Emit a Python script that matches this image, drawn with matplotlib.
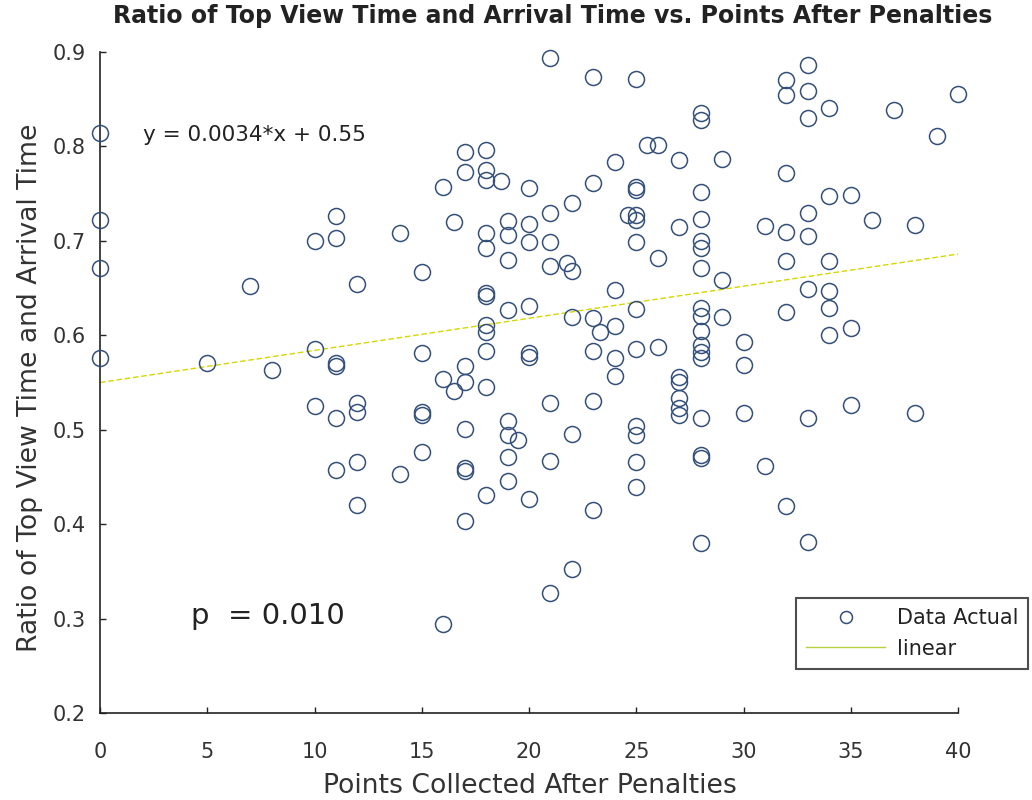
import matplotlib
matplotlib.use("Agg")
import matplotlib.pyplot as plt
import numpy as np
from matplotlib.lines import Line2D

# ---- data ----
points_x = [0, 0, 0, 0,
            5, 7, 8,
            10, 10, 10,
            11, 11, 11, 11, 11, 11,
            12, 12, 12, 12, 12,
            14, 14,
            15, 15, 15, 15, 15,
            16, 16, 16,
            16.5, 16.5,
            17, 17, 17, 17, 17, 17, 17, 17,
            18, 18, 18, 18, 18, 18, 18, 18, 18, 18, 18, 18,
            18.7,
            19, 19, 19, 19, 19, 19, 19, 19,
            19.5,
            20, 20, 20, 20, 20, 20, 20,
            21, 21, 21, 21, 21, 21, 21,
            21.75,
            22, 22, 22, 22, 22,
            23, 23, 23, 23, 23, 23,
            23.3,
            24, 24, 24, 24, 24,
            24.6,
            25, 25, 25, 25, 25, 25, 25, 25, 25, 25, 25, 25,
            25.5,
            26, 26, 26,
            27, 27, 27, 27, 27, 27, 27,
            28, 28, 28, 28, 28, 28, 28, 28, 28, 28, 28, 28, 28, 28, 28, 28, 28,
            29, 29, 29,
            30, 30, 30,
            31, 31,
            32, 32, 32, 32, 32, 32, 32,
            33, 33, 33, 33, 33, 33, 33, 33,
            34, 34, 34, 34, 34, 34,
            35, 35, 35,
            36, 37, 38, 38, 39, 40]

ratio_y = [0.814, 0.722, 0.671, 0.576,
           0.571, 0.652, 0.563,
           0.700, 0.585, 0.525,
           0.726, 0.703, 0.571, 0.568, 0.512, 0.457,
           0.654, 0.528, 0.519, 0.466, 0.420,
           0.708, 0.453,
           0.667, 0.581, 0.519, 0.516, 0.476,
           0.757, 0.554, 0.294,
           0.720, 0.541,
           0.794, 0.773, 0.567, 0.551, 0.501, 0.459, 0.456, 0.403,
           0.796, 0.775, 0.764, 0.708, 0.692, 0.645, 0.642, 0.611, 0.604, 0.583, 0.545, 0.431,
           0.763,
           0.721, 0.706, 0.680, 0.627, 0.509, 0.494, 0.471, 0.446,
           0.489,
           0.756, 0.718, 0.699, 0.631, 0.581, 0.577, 0.427,
           0.894, 0.729, 0.699, 0.673, 0.528, 0.467, 0.327,
           0.677,
           0.740, 0.668, 0.619, 0.495, 0.352,
           0.873, 0.761, 0.618, 0.583, 0.530, 0.415,
           0.603,
           0.783, 0.648, 0.610, 0.576, 0.557,
           0.727,
           0.871, 0.757, 0.754, 0.727, 0.722, 0.699, 0.628, 0.585, 0.504, 0.494, 0.466, 0.439,
           0.802,
           0.802, 0.682, 0.588,
           0.786, 0.715, 0.556, 0.551, 0.534, 0.523, 0.516,
           0.835, 0.828, 0.752, 0.723, 0.700, 0.692, 0.671, 0.629, 0.620, 0.605, 0.590, 0.582, 0.576, 0.512, 0.473, 0.470, 0.380,
           0.787, 0.659, 0.619,
           0.593, 0.569, 0.518,
           0.716, 0.462,
           0.870, 0.854, 0.772, 0.709, 0.679, 0.625, 0.419,
           0.886, 0.859, 0.830, 0.729, 0.705, 0.649, 0.512, 0.381,
           0.841, 0.747, 0.679, 0.647, 0.629, 0.600,
           0.749, 0.608, 0.526,
           0.722, 0.839, 0.717, 0.518, 0.811, 0.855]

fit_slope = 0.0034
fit_intercept = 0.55
x_ticks = [0, 5, 10, 15, 20, 25, 30, 35, 40]
y_ticks = [0.2, 0.3, 0.4, 0.5, 0.6, 0.7, 0.8, 0.9]

title = "Ratio of Top View Time and Arrival Time vs. Points After Penalties"
x_label = "Points Collected After Penalties"
y_label = "Ratio of Top View Time and Arrival Time"
eq_text = "y = 0.0034*x + 0.55"
p_text = "p  = 0.010"

# ---- figure ----
W, H = 1032, 800
fig = plt.figure(figsize=(W / 100, H / 100), dpi=100)
ax = fig.add_axes([100 / W, 1 - 713 / H, (958 - 100) / W, (713 - 52) / H])

marker_color = "#34507a"
line_color = "#d6d600"

ax.plot(points_x, ratio_y, linestyle="none", marker="o", markersize=11.5,
        markerfacecolor="none", markeredgecolor=marker_color, markeredgewidth=1.1,
        clip_on=False, zorder=3)

fx = np.array([x_ticks[0], x_ticks[-1]])
ax.plot(fx, fit_slope * fx + fit_intercept, color=line_color, linestyle=(0, (4, 2)),
        linewidth=1.0, zorder=2)

ax.set_xlim(x_ticks[0], x_ticks[-1])
ax.set_ylim(y_ticks[0], y_ticks[-1])
ax.set_xticks(x_ticks)
ax.set_yticks(y_ticks)
ax.set_xticklabels([f"{v:g}" for v in x_ticks])
ax.set_yticklabels([f"{v:.1f}" for v in y_ticks])

for s in ["top", "right"]:
    ax.spines[s].set_visible(False)
for s in ["left", "bottom"]:
    ax.spines[s].set_linewidth(1.2)
    ax.spines[s].set_color("#222222")

ax.tick_params(axis="both", direction="in", length=4.5, width=1.0, colors="#222222",
               labelsize=15, labelcolor="#333333")
ax.tick_params(axis="x", pad=21)
ax.tick_params(axis="y", pad=10)

fig.text(553 / W, 1 - 23 / H, title, ha="center", va="baseline",
         fontsize=17.0, fontweight="bold", color="#222222")
fig.text(530 / W, 1 - 793 / H, x_label, ha="center", va="baseline",
         fontsize=19.2, color="#333333")
fig.text(37 / W, 1 - 388 / H, y_label, ha="center", va="baseline", rotation=90,
         rotation_mode="anchor", fontsize=19.2, color="#333333")

ax.text(143 / W, 1 - 135 / H, eq_text, transform=fig.transFigure, ha="left",
        va="center", fontsize=15.5, color="#222222")
ax.text(191 / W, 1 - 616 / H, p_text, transform=fig.transFigure, ha="left",
        va="center", fontsize=21, color="#222222")

handles = [
    Line2D([], [], linestyle="none", marker="o", markersize=11.5, markerfacecolor="none",
           markeredgecolor=marker_color, markeredgewidth=1.1),
    Line2D([], [], color="#b8d040", linewidth=1.0),
]
leg = ax.legend(handles, ["Data Actual", "linear"], loc="center",
                bbox_to_anchor=(912 / W, 1 - 633.5 / H), bbox_transform=fig.transFigure,
                fontsize=15, frameon=True, fancybox=False, borderpad=0.5,
                handlelength=3.8, handletextpad=0.55, labelspacing=0.5,
                markerscale=0.75, borderaxespad=0)
leg.get_frame().set_edgecolor("#222222")
leg.get_frame().set_linewidth(1.5)
for t in leg.get_texts():
    t.set_color("#222222")

fig.savefig("out.png", dpi=100)
